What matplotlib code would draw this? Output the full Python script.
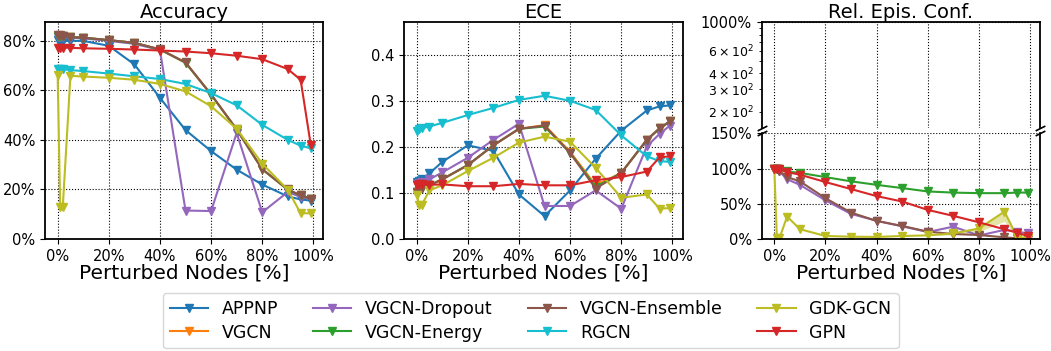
import numpy as np
import matplotlib
matplotlib.use("Agg")
import matplotlib.pyplot as plt
from matplotlib.ticker import PercentFormatter, MultipleLocator

# perturbed nodes [%]
x = [0, 1, 2, 5, 10, 20, 30, 40, 50, 60, 70, 80, 90, 95, 99]

models = ["APPNP", "VGCN", "VGCN-Dropout", "VGCN-Energy",
          "VGCN-Ensemble", "RGCN", "GDK-GCN", "GPN"]
colors = ["tab:blue", "tab:orange", "tab:purple", "tab:green",
          "tab:brown", "tab:cyan", "tab:olive", "tab:red"]

# accuracy (fraction)
acc_appnp = [0.805, 0.80, 0.80, 0.80, 0.80, 0.78, 0.705, 0.57, 0.44, 0.355, 0.28, 0.22, 0.172, 0.16, 0.155]
acc_vgcn = [0.82, 0.82, 0.82, 0.815, 0.813, 0.803, 0.792, 0.765, 0.712, 0.583, 0.442, 0.282, 0.199, 0.176, 0.162]
acc_dropout = [0.815, 0.815, 0.815, 0.813, 0.81, 0.80, 0.788, 0.763, 0.115, 0.113, 0.428, 0.108, 0.19, 0.17, 0.16]
acc_energy = [0.82, 0.82, 0.82, 0.815, 0.813, 0.803, 0.792, 0.765, 0.712, 0.583, 0.442, 0.282, 0.199, 0.176, 0.162]
acc_ensemble = [0.822, 0.822, 0.821, 0.815, 0.813, 0.803, 0.792, 0.766, 0.713, 0.584, 0.443, 0.282, 0.2, 0.176, 0.162]
acc_rgcn = [0.688, 0.688, 0.686, 0.682, 0.678, 0.668, 0.657, 0.646, 0.626, 0.589, 0.54, 0.461, 0.40, 0.377, 0.366]
acc_gdk = [0.662, 0.128, 0.128, 0.659, 0.656, 0.651, 0.643, 0.626, 0.596, 0.536, 0.445, 0.304, 0.199, 0.104, 0.104]
acc_gpn = [0.773, 0.773, 0.773, 0.772, 0.770, 0.768, 0.765, 0.761, 0.757, 0.750, 0.740, 0.726, 0.686, 0.643, 0.378]

# expected calibration error
ece_appnp = [0.124, 0.126, 0.13, 0.143, 0.168, 0.204, 0.192, 0.097, 0.050, 0.106, 0.175, 0.236, 0.28, 0.289, 0.291]
ece_vgcn = [0.103, 0.106, 0.111, 0.117, 0.13, 0.161, 0.204, 0.24, 0.248, 0.19, 0.117, 0.144, 0.216, 0.241, 0.256]
ece_dropout = [0.12, 0.122, 0.125, 0.13, 0.145, 0.177, 0.216, 0.251, 0.072, 0.072, 0.106, 0.066, 0.202, 0.229, 0.247]
ece_energy = [0.103, 0.106, 0.111, 0.117, 0.13, 0.161, 0.204, 0.24, 0.245, 0.188, 0.113, 0.144, 0.216, 0.241, 0.256]
ece_ensemble = [0.103, 0.106, 0.111, 0.117, 0.13, 0.161, 0.204, 0.24, 0.247, 0.187, 0.110, 0.144, 0.216, 0.241, 0.256]
ece_rgcn = [0.236, 0.24, 0.2415, 0.245, 0.253, 0.27, 0.2856, 0.303, 0.312, 0.301, 0.281, 0.2256, 0.18, 0.1697, 0.168]
ece_gdk = [0.096, 0.074, 0.074, 0.106, 0.117, 0.148, 0.177, 0.21, 0.223, 0.212, 0.155, 0.09, 0.097, 0.066, 0.0675]
ece_gpn = [0.117, 0.119, 0.119, 0.118, 0.119, 0.115, 0.115, 0.12, 0.117, 0.117, 0.128, 0.135, 0.147, 0.178, 0.18]

# relative epistemic confidence [%] (only models with epistemic estimates)
conf_dropout = [100, 99, 96, 85, 77, 55, 35.7, 26, 18, 10, 17.6, 5, 13, 10.5, 8]
conf_energy = [100, 99.5, 99, 96, 94, 88, 82, 77, 72.4, 67.6, 66, 65.2, 65.2, 66, 66]
conf_ensemble = [100, 99, 97, 88, 82, 58, 37.6, 25.7, 18.6, 10.5, 7.1, 5.7, 2.4, 1, 0.5]
conf_gdk = [100, 1, 1, 32, 14, 4.3, 3.3, 3, 4.3, 5.2, 8, 15, 39, 2.4, 2]
conf_gdk_lo = [100, 1, 1, 32, 14, 4.3, 3.3, 3, 4.3, 5.0, 6, 10.5, 25, 2.0, 1.5]
conf_gpn = [100, 100, 99, 95, 91.5, 81, 71, 61, 53.3, 41.4, 32.9, 23.8, 13.8, 9, 4.3]

acc = [acc_appnp, acc_vgcn, acc_dropout, acc_energy, acc_ensemble, acc_rgcn, acc_gdk, acc_gpn]
ece = [ece_appnp, ece_vgcn, ece_dropout, ece_energy, ece_ensemble, ece_rgcn, ece_gdk, ece_gpn]
conf = {"VGCN-Dropout": conf_dropout, "VGCN-Energy": conf_energy,
        "VGCN-Ensemble": conf_ensemble, "GDK-GCN": conf_gdk, "GPN": conf_gpn}

LINE = dict(marker="v", markersize=6, linewidth=1.5)
GRID = dict(color="k", linestyle=":", linewidth=0.8)
TICK_FS = 10.5
TITLE_FS = 14
LABEL_FS = 14.5


def style(ax):
    ax.grid(True, **GRID)
    ax.tick_params(labelsize=TICK_FS)
    for s in ax.spines.values():
        s.set_linewidth(1.3)
    ax.xaxis.set_major_locator(MultipleLocator(20))
    ax.xaxis.set_major_formatter(PercentFormatter(xmax=100, decimals=0))


fig = plt.figure(figsize=(10.51, 3.51), dpi=100)
W, B, H = 0.265, 0.319, 0.6175
ax_acc = fig.add_axes([0.0428, B, W, H])
ax_ece = fig.add_axes([0.3844, B, W, H])
ax_top = fig.add_axes([0.7247, 0.6353, W, 0.9365 - 0.6353])
ax_bot = fig.add_axes([0.7247, B, W, 0.6197 - B])

handles = []
for name, c, a, e in zip(models, colors, acc, ece):
    h, = ax_acc.plot(x, a, color=c, label=name, **LINE)
    ax_ece.plot(x, e, color=c, **LINE)
    handles.append(h)
    if name in conf:
        for ax in (ax_top, ax_bot):
            ax.plot(x, conf[name], color=c, **LINE)
ax_bot.fill_between(x, conf_gdk_lo, conf_gdk, color="tab:olive", alpha=0.4, linewidth=0)

# accuracy
ax_acc.set_title("Accuracy", fontsize=TITLE_FS, pad=3)
ax_acc.set_ylim(0, 0.875)
ax_acc.yaxis.set_major_locator(MultipleLocator(0.2))
ax_acc.yaxis.set_major_formatter(PercentFormatter(xmax=1, decimals=0))
ax_acc.set_xlabel("Perturbed Nodes [%]", fontsize=LABEL_FS, labelpad=0)
style(ax_acc)

# ECE
ax_ece.set_title("ECE", fontsize=TITLE_FS, pad=3)
ax_ece.set_ylim(0, 0.472)
ax_ece.yaxis.set_major_locator(MultipleLocator(0.1))
ax_ece.set_xlabel("Perturbed Nodes [%]", fontsize=LABEL_FS, labelpad=0)
style(ax_ece)

# relative epistemic confidence, broken y axis
ax_top.set_title("Rel. Epis. Conf.", fontsize=TITLE_FS, pad=3)
ax_top.set_yscale("log")
ax_top.set_ylim(150, 1000)
ax_top.yaxis.set_major_formatter(PercentFormatter(xmax=100, decimals=0))
style(ax_top)
ax_top.tick_params(axis="y", which="minor", labelsize=9)
ax_top.grid(False, axis="y")
ax_top.grid(True, axis="y", which="major", **GRID)
ax_top.spines["bottom"].set_visible(False)
ax_top.tick_params(axis="x", bottom=False, labelbottom=False)

ax_bot.set_ylim(0, 150)
ax_bot.yaxis.set_major_locator(MultipleLocator(50))
ax_bot.yaxis.set_major_formatter(PercentFormatter(xmax=100, decimals=0))
ax_bot.set_xlabel("Perturbed Nodes [%]", fontsize=LABEL_FS, labelpad=0)
style(ax_bot)
ax_bot.spines["top"].set_visible(False)
ax_top.set_xlim(ax_bot.get_xlim())

d = 0.5
brk = dict(marker=[(-1, -d), (1, d)], markersize=7, linestyle="none",
           color="k", mec="k", mew=1.2, clip_on=False)
ax_top.plot([0, 1], [0, 0], transform=ax_top.transAxes, **brk)
ax_bot.plot([0, 1], [1, 1], transform=ax_bot.transAxes, **brk)

fig.legend(handles=handles, ncol=4, loc="upper center",
           bbox_to_anchor=(0.505, 0.174), fontsize=12.5, frameon=True,
           columnspacing=2.0, handlelength=2.2, borderaxespad=0.2,
           labelspacing=0.3)

fig.savefig("out.png", dpi=100)
